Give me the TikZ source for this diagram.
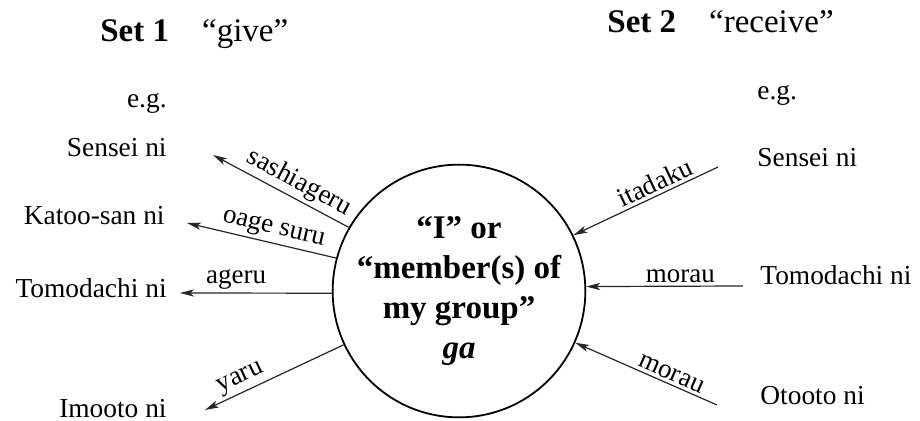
\documentclass[tikz,border=0pt]{standalone}
\usepackage{fontspec}
\setmainfont{Liberation Serif}
\usetikzlibrary{arrows.meta}

\tikzset{
  lbl/.style={font=\fontsize{13.7}{16}\selectfont, inner sep=0pt},
  head/.style={font=\fontsize{16.5}{20}\selectfont, inner sep=0pt, anchor=base west},
  verb/.style={font=\fontsize{13.5}{16}\selectfont, sloped, above, inner sep=1.5pt},
  arr/.style={draw=black!85, line width=0.6pt, -{Stealth[length=7pt,width=3.6pt,inset=1.8pt]}},
  me/.style={circle, draw, line width=0.9pt, minimum size=124pt, inner sep=0pt, align=center,
    font=\fontsize{16.5}{20}\selectfont\bfseries}
}

\begin{document}
\begin{tikzpicture}[x=0.5pt,y=-0.5pt]
  \useasboundingbox (0,0) rectangle (920,421);

  % headings
  \node[head] (set1) at (100,42) {\textbf{Set 1}\quad``give''};
  \node[head] (set2) at (607,33) {\textbf{Set 2}\quad``receive''};

  % the centre
  \node[me] (me) at (459,291) {``I'' or\\``member(s) of\\my group''\\\textit{ga}};

  % left side: give
  \node[lbl, anchor=base east] (eg1) at (167,108) {e.g.};
  \node[lbl, anchor=base east] (sensei1) at (167,157) {Sensei ni};
  \node[lbl, anchor=base east] (katoo) at (165,225) {Katoo-san ni};
  \node[lbl, anchor=base east] (tomo1) at (167,298) {Tomodachi ni};
  \node[lbl, anchor=base east] (imooto) at (167,418) {Imooto ni};

  \coordinate (g1) at (213,155);
  \coordinate (g2) at (187,223);
  \coordinate (g3) at (180,293);
  \coordinate (g4) at (205,410);

  \draw[arr] (me.150) -- (g1) node[verb,pos=0.42] {sashiageru};
  \draw[arr] (me.165) -- (g2) node[verb,pos=0.44] {oage suru};
  \draw[arr] (me.181) -- (g3) node[verb,pos=0.63] {ageru};
  \draw[arr] (me.205) -- (g4) node[verb,pos=0.7] {yaru};

  % right side: receive
  \node[lbl, anchor=base west] (eg2) at (757,100) {e.g.};
  \node[lbl, anchor=base west] (sensei2) at (757,167) {Sensei ni};
  \node[lbl, anchor=base west] (tomo2) at (760,285) {Tomodachi ni};
  \node[lbl, anchor=base west] (otooto) at (760,405) {Otooto ni};

  \coordinate (r1) at (718,167);
  \coordinate (r2) at (743,286);
  \coordinate (r3) at (717,405);

  \draw[arr] (r1) -- (me.26) node[verb,pos=0.4] {itadaku};
  \draw[arr] (r2) -- (me.2) node[verb,pos=0.4] {morau};
  \draw[arr] (r3) -- (me.-24) node[verb,pos=0.35] {morau};

\end{tikzpicture}
\end{document}
